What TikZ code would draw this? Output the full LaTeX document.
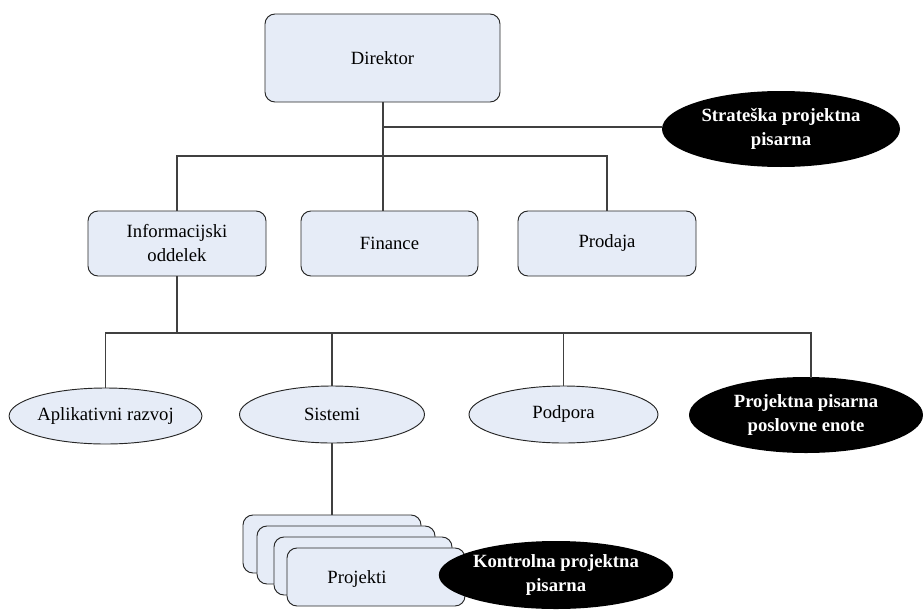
\documentclass[tikz,border=0pt]{standalone}
\usepackage{fontspec}
\setmainfont{Liberation Serif}
\usetikzlibrary{shapes.geometric}
\definecolor{boxfill}{RGB}{230,236,247}
\definecolor{linegray}{RGB}{64,64,64}
\begin{document}
\begin{tikzpicture}[x=0.75pt,y=-0.75pt,
  every node/.style={font=\fontsize{14}{18}\selectfont, align=center, inner sep=0pt},
  unit/.style={draw=black!85, fill=boxfill, rounded corners=7.5pt, line width=0.7pt},
  team/.style={ellipse, draw=black!85, fill=boxfill, line width=0.7pt},
  pmo/.style={ellipse, fill=black, text=white, font=\fontsize{14}{18}\selectfont\bfseries},
  link/.style={draw=linegray, line width=1pt}]
\useasboundingbox (0,0) rectangle (923,610);

% top level
\node[unit, minimum width=176.25pt, minimum height=66pt] (dir) at (382.5,58) {Direktor};

% departments
\node[unit, minimum width=133.5pt, minimum height=48.75pt] (inf) at (177,243.5) {Informacijski\\oddelek};
\node[unit, minimum width=132.75pt, minimum height=48.75pt] (fin) at (389.5,243.5) {Finance};
\node[unit, minimum width=133.5pt, minimum height=48.75pt] (pro) at (607,243.5) {Prodaja};

% connectors from the director
\coordinate (bus1) at (383,156);
\coordinate (tap) at (383,127);
\draw[link] (dir.south -| bus1) -- (bus1);
\draw[link] (inf.north) |- (bus1) -| (pro.north);
\draw[link] (bus1) -- (fin.north -| bus1);

% strategic PMO
\node[pmo, minimum width=178.5pt, minimum height=57pt] (spo) at (781,129) {Strateška projektna\\pisarna};
\draw[link] (tap) -- (spo.west |- tap);

% teams under the IT department
\node[team, minimum width=140.25pt, minimum height=42pt] (apl) at (105.5,416) {Aplikativni razvoj};
\node[team, minimum width=138.75pt, minimum height=42.75pt] (sis) at (332,414.5) {Sistemi};
\node[team, minimum width=141.75pt, minimum height=42.75pt] (pod) at (563.5,414.5) {Podpora};
\node[pmo, minimum width=175.5pt, minimum height=57pt] (ppe) at (806,415) {Projektna pisarna\\poslovne enote};

\coordinate (bus2) at (177,333);
\draw[link] (inf.south) -- (bus2);
\draw[link] (apl.north) |- (bus2) -| (ppe.north -| 811,0);
\draw[link] (ppe.north -| 811,0) -- (811,378);
\draw[link] (sis.north) -- (sis.north |- bus2);
\draw[link] (pod.north) -- (pod.north |- bus2);

% stacked project cards
\node[unit, minimum width=133.5pt, minimum height=43.5pt] (pr1) at (332,544) {};
\node[unit, minimum width=133.5pt, minimum height=43.5pt] (pr2) at (346,555) {};
\node[unit, minimum width=133.5pt, minimum height=43.5pt] (pr3) at (363,566) {};
\node[unit, minimum width=133.5pt, minimum height=43.5pt] (pr4) at (376,577) {};
\node (prt) at (357,579) {Projekti};
\draw[link] (sis.south) -- (pr1.north);

% control PMO
\node[pmo, minimum width=171pt, minimum height=51pt] (kpo) at (556,575) {Kontrolna projektna\\pisarna};
\end{tikzpicture}
\end{document}
